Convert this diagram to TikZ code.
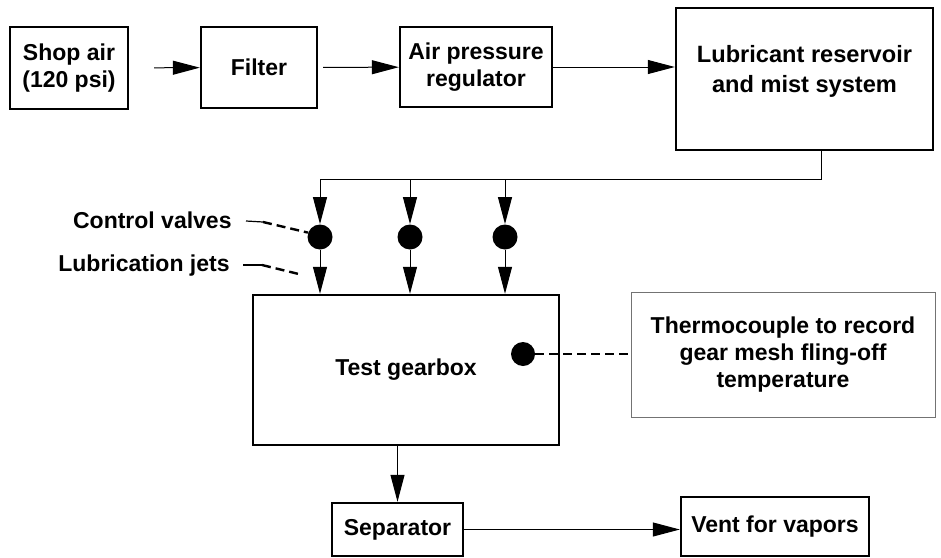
\documentclass[tikz,border=0pt]{standalone}
\usepackage{fontspec}
\setmainfont{Liberation Sans}
\usetikzlibrary{arrows.meta}

\tikzset{
  blk/.style={draw, line width=1.2pt, align=center, inner sep=2pt,
    font=\bfseries\fontsize{11.5}{13.5}\selectfont},
  lbl/.style={inner sep=0pt, font=\bfseries\fontsize{11.5}{13.5}\selectfont},
  flow/.style={-{Triangle[length=13.5pt,width=7pt]}, line width=0.5pt},
  valve/.style={circle, fill, inner sep=0pt, minimum size=12.5pt},
  lead/.style={line width=1.2pt, dash pattern=on 4.5pt off 2.5pt}
}

\begin{document}
\begin{tikzpicture}[x=0.5pt, y=-0.5pt]
    \useasboundingbox (0,0) rectangle (941,557);

    \node[blk, minimum width=59pt, minimum height=41pt] (shop) at (69,68) {Shop air\\(120 psi)};
    \node[blk, minimum width=58pt, minimum height=40.5pt] (filt) at (259,67.5) {Filter};
    \node[blk, minimum width=76pt, minimum height=40pt] (reg) at (476,67) {Air pressure\\regulator};
    \node[blk, minimum width=128.5pt, minimum height=71pt,
        label={[lbl, align=center, font=\bfseries\fontsize{11.8}{15}\selectfont, yshift=4pt]center:Lubricant reservoir\\and mist system}]
        (res) at (804.5,79) {};

    \node[valve] (v1) at (320,237) {};
    \node[valve] (v2) at (410,237) {};
    \node[valve] (v3) at (505,237) {};

    \node[blk, minimum width=153pt, minimum height=75pt] (gear) at (406,370) {Test gearbox};
    \node[valve, minimum size=12pt] (tc) at (523,354) {};
    \node[blk, draw=black!55, line width=0.5pt, minimum width=152pt, minimum height=62.5pt] (tbox) at (783,354.5)
        {Thermocouple to record\\gear mesh fling-off\\temperature};

    \node[blk, minimum width=65.5pt, minimum height=26.5pt] (sep) at (397.5,529.5) {Separator};
    \node[blk, minimum width=94pt, minimum height=29.5pt] (vent) at (775,526.5) {Vent for vapors};

    \node[lbl, anchor=east] (cvtxt) at (232,220) {Control valves};
    \node[lbl, anchor=east] (ljtxt) at (230,266) {Lubrication jets};

    \draw[flow, shorten <=12.5pt] (shop) -- (filt);
    \draw[flow, shorten <=2.5pt] (filt) -- (reg);
    \draw[flow] (reg) -- (reg -| res.west);

    \coordinate (tap) at (821,179);
    \draw[flow] (res.south -| tap) -- (tap) -| (v1.north);
    \draw[flow] (v2 |- tap) -- (v2.north);
    \draw[flow] (v3 |- tap) -- (v3.north);
    \foreach \v in {v1,v2,v3}
        \draw[flow] (\v.south) -- (\v |- gear.north);

    \coordinate (jet1) at (v1 |- gear.north);
    \draw[line width=0.6pt] (cvtxt.east) ++(14,1) -- ++(17,1) coordinate (cvk);
    \draw[lead] (cvk) -- (v1.160);
    \draw[line width=0.6pt] (ljtxt.east) ++(13,-1) -- ++(19,0) coordinate (ljk);
    \draw[lead] (ljk) -- ([xshift=-9pt,yshift=9.5pt]jet1);

    \draw[lead] (tc) -- (tc -| tbox.west);

    \draw[flow] (gear.south -| sep.north) -- (sep.north);
    \draw[flow] (sep) -- (sep -| vent.west);
\end{tikzpicture}
\end{document}
